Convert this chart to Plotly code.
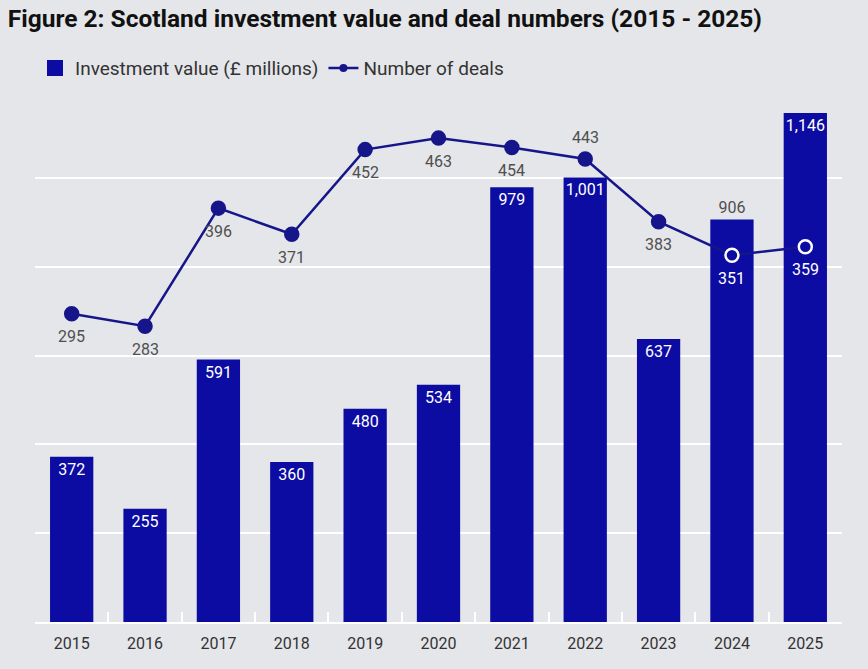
import plotly.graph_objects as go

years = ["2015", "2016", "2017", "2018", "2019", "2020", "2021", "2022", "2023", "2024", "2025"]
investment = [372, 255, 591, 360, 480, 534, 979, 1001, 637, 906, 1146]
deals = [295, 283, 396, 371, 452, 463, 454, 443, 383, 351, 359]

BAR = "#0c0ca2"
NAVY = "#16168a"
BG = "#e5e6ea"
GREY = "#4f4f4f"
FONT = "Roboto"

bar_pos = ["outside" if y == "2024" else "inside" for y in years]
above = [y == "2022" for y in years]
on_bar = [y in ("2024", "2025") for y in years]
mk_fill = [BAR if o else NAVY for o in on_bar]
mk_line = ["white" if o else NAVY for o in on_bar]

fig = go.Figure()
fig.add_trace(go.Bar(
    x=years, y=investment, name="Investment value (£ millions)", showlegend=False,
    marker=dict(color=BAR, line=dict(width=0)),
    texttemplate="%{y:,}", textposition=bar_pos, insidetextanchor="end",
    textangle=0, constraintext="none",
    insidetextfont=dict(color="white", size=16, family=FONT),
    outsidetextfont=dict(color=GREY, size=16, family=FONT),
    cliponaxis=False,
))
# legend proxies (legend-only swatches)
fig.add_trace(go.Scatter(
    x=[years[0]], y=[None], name="Investment value (£ millions)", mode="markers",
    marker=dict(symbol="square", size=22, color=BAR),
))
fig.add_trace(go.Scatter(
    x=[years[0]], y=[None], name="Number of deals", mode="lines+markers", yaxis="y2",
    line=dict(color=NAVY, width=2.5), marker=dict(size=8, color=NAVY),
))
fig.add_trace(go.Scatter(
    x=years, y=deals, name="Number of deals", yaxis="y2", showlegend=False,
    mode="lines+markers",
    line=dict(color=NAVY, width=2.5),
    marker=dict(size=13, color=mk_fill, line=dict(color=mk_line, width=2.5)),
    cliponaxis=False,
))

# deal labels: category index positions on the category axis
for i, (d, a, o) in enumerate(zip(deals, above, on_bar)):
    fig.add_annotation(x=i, y=d, xref="x", yref="y2", text=str(d), showarrow=False,
                       yshift=22 if a else -23,
                       font=dict(size=16, family=FONT, color="white" if o else GREY))

fig.update_layout(
    width=868, height=669,
    paper_bgcolor=BG, plot_bgcolor=BG,
    margin=dict(l=35, r=26, t=89, b=47),
    font=dict(family=FONT, color=GREY, size=14),
    bargap=0.41,
    showlegend=True,
    legend=dict(orientation="h", x=0.0, y=1.039, xanchor="left", yanchor="middle",
                font=dict(size=19, color="#333333", family=FONT), bgcolor="rgba(0,0,0,0)",
                itemsizing="trace", itemwidth=30, tracegroupgap=0),
    title=dict(text="<b>Figure 2: Scotland investment value and deal numbers (2015 - 2025)</b>",
               x=0.009, xanchor="left", y=0.973, yanchor="middle",
               font=dict(size=24.5, color="#111111", family=FONT)),
    xaxis=dict(type="category", categoryorder="array", categoryarray=years,
               range=[-0.5, len(years) - 0.5],
               showgrid=False, showline=True, linecolor="white", linewidth=2,
               ticks="inside", tickson="boundaries", tickcolor="white", ticklen=10, tickwidth=2,
               tickfont=dict(size=16, color="#333333"), ticklabelstandoff=6),
    yaxis=dict(range=[0, 1200], dtick=200, showgrid=True, gridcolor="white", gridwidth=2,
               showticklabels=False, zeroline=False),
    yaxis2=dict(range=[0, 510], overlaying="y", side="right", showgrid=False,
                showticklabels=False, zeroline=False),
)

fig.write_html("out.html")
